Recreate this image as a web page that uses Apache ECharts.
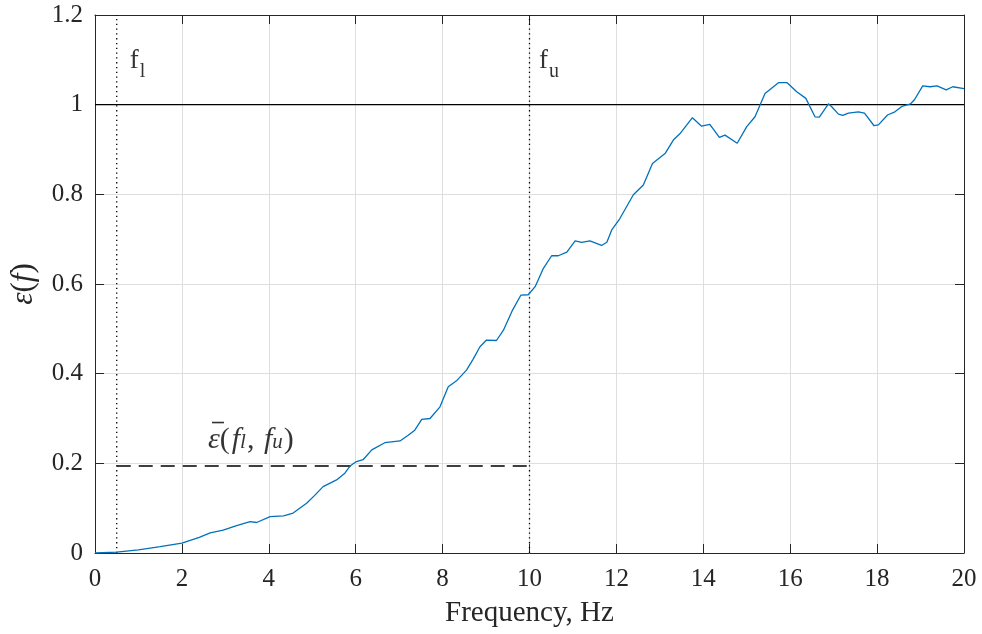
<!DOCTYPE html>
<html>
<head>
<meta charset="utf-8">
<script src="https://cdn.jsdelivr.net/npm/echarts@6/dist/echarts.min.js"></script>
<style>html,body{margin:0;padding:0;background:#fff}#c{width:982px;height:634px}</style>
</head>
<body>
<div id="c"></div>
<script>
// frequency (Hz) and epsilon(f) values
var freq = [0,0.5,1.0,1.5,2.0,2.4,2.65,2.95,3.26,3.57,3.72,4.03,4.34,4.56,4.87,5.05,5.25,5.56,5.75,5.87,
  6.0,6.17,6.37,6.67,7.02,7.2,7.36,7.52,7.71,7.94,8.13,8.32,8.55,8.7,8.86,9.01,9.24,9.4,9.6,9.8,
  9.97,10.13,10.32,10.51,10.66,10.86,11.05,11.2,11.39,11.66,11.78,11.89,12.08,12.25,12.39,12.62,12.83,13.12,13.31,13.46,
  13.75,13.96,14.15,14.37,14.5,14.78,15.0,15.19,15.42,15.73,15.93,16.15,16.36,16.57,16.67,16.88,16.95,17.11,17.21,17.34,
  17.57,17.71,17.93,18.03,18.24,18.41,18.57,18.77,18.86,19.05,19.22,19.38,19.59,19.74,20.0];
var eps = [0,0.002,0.007,0.014,0.022,0.035,0.045,0.051,0.061,0.070,0.068,0.081,0.083,0.089,0.111,0.128,0.148,0.163,0.178,0.194,
  0.203,0.208,0.230,0.246,0.250,0.262,0.274,0.298,0.300,0.326,0.371,0.384,0.408,0.432,0.460,0.475,0.474,0.497,0.540,0.575,
  0.576,0.594,0.635,0.663,0.663,0.671,0.696,0.693,0.696,0.686,0.693,0.720,0.746,0.775,0.799,0.821,0.869,0.891,0.921,0.935,
  0.971,0.952,0.956,0.927,0.932,0.914,0.951,0.973,1.025,1.049,1.049,1.029,1.014,0.973,0.972,1.002,0.996,0.979,0.976,0.981,
  0.984,0.981,0.953,0.955,0.977,0.984,0.996,1.002,1.011,1.042,1.040,1.042,1.033,1.040,1.036];
var fLower = 0.5, fUpper = 10;
var epsMean = 0.194;
var refLevel = 1;
var xTicks = {min: 0, max: 20, step: 2};
var yTicks = {min: 0, max: 1.2, step: 0.2};
var xLabel = 'Frequency, Hz';

var curve = freq.map(function (f, i) { return [f, eps[i]]; });
var serif = 'Liberation Serif';
var axisColor = '#262626';

var chart = echarts.init(document.getElementById('c'), null, {renderer: 'canvas'});
var baseAxis = {
  axisLine: {show: true, onZero: false, lineStyle: {color: axisColor, width: 1}},
  axisTick: {show: true, inside: true, length: 9, lineStyle: {color: axisColor}},
  splitLine: {show: false},
  axisLabel: {show: false}
};
chart.setOption({
  animation: false,
  grid: {left: 95, right: 18, top: 15, bottom: 81, containLabel: false},
  xAxis: [
    Object.assign({}, baseAxis, {
      type: 'value', min: xTicks.min, max: xTicks.max, interval: xTicks.step, position: 'bottom',
      splitLine: {show: true, lineStyle: {color: '#dedede', width: 1}},
      axisLabel: {show: true, fontFamily: serif, fontSize: 25, color: axisColor, margin: 14},
      name: xLabel, nameLocation: 'middle', nameGap: 46,
      nameTextStyle: {fontFamily: serif, fontSize: 29, color: axisColor}
    }),
    Object.assign({}, baseAxis, {
      type: 'value', min: xTicks.min, max: xTicks.max, interval: xTicks.step, position: 'top'
    })
  ],
  yAxis: [
    Object.assign({}, baseAxis, {
      type: 'value', min: yTicks.min, max: yTicks.max, interval: yTicks.step, position: 'left',
      splitLine: {show: true, lineStyle: {color: '#dedede', width: 1}},
      axisLabel: {show: true, fontFamily: serif, fontSize: 25, color: axisColor, margin: 12},
      name: '{e|ε}{p|(}{e|f}{p|)}', nameLocation: 'middle', nameGap: 56, nameRotate: 90,
      nameTextStyle: {
        color: axisColor,
        rich: {
          e: {fontFamily: serif, fontStyle: 'italic', fontSize: 31, color: axisColor},
          p: {fontFamily: serif, fontSize: 31, color: axisColor}
        }
      }
    }),
    Object.assign({}, baseAxis, {
      type: 'value', min: yTicks.min, max: yTicks.max, interval: yTicks.step, position: 'right'
    })
  ],
  series: [
    {
      type: 'line', data: curve, showSymbol: false, symbol: 'none',
      lineStyle: {color: '#0072BD', width: 1.3}, z: 5
    },
    {
      type: 'line', data: [[xTicks.min, refLevel], [xTicks.max, refLevel]], symbol: 'none',
      lineStyle: {color: '#000', width: 1.3}, z: 4
    },
    {
      type: 'line', data: [[fLower, yTicks.min], [fLower, yTicks.max]], symbol: 'none',
      lineStyle: {color: '#000', width: 1.3, type: [1.3, 3.5]}, z: 4
    },
    {
      type: 'line', data: [[fUpper, yTicks.min], [fUpper, yTicks.max]], symbol: 'none',
      lineStyle: {color: '#000', width: 1.3, type: [1.3, 3.5]}, z: 4
    },
    {
      type: 'line', data: [[fLower, epsMean], [fUpper, epsMean]], symbol: 'none',
      lineStyle: {color: '#000', width: 1.3, type: [14, 8]}, z: 4
    },
    {
      type: 'scatter', symbolSize: 0, silent: true, z: 6,
      data: [
        {value: [0.8, 1.09], label: {formatter: '{m|f}{s|l}'}},
        {value: [10.22, 1.09], label: {formatter: '{m|f}{s|u}'}},
        {value: [2.6, 0.262], label: {formatter: '{sp|}{bar|}\n{b|ε}{p|(}{i|f}{si|l}{p|, }{i|f}{si|u}{p|)}'}}
      ],
      label: {
        show: true, position: 'right', distance: 0, align: 'left',
        rich: {
          m: {fontFamily: serif, fontSize: 27, color: '#000', lineHeight: 34, verticalAlign: 'top'},
          s: {fontFamily: serif, fontSize: 20, color: '#000', lineHeight: 34, verticalAlign: 'bottom', padding: [18, 0, 0, 1]},
          sp: {width: 4, height: 2, lineHeight: 9},
          bar: {width: 12, height: 1.6, lineHeight: 9, backgroundColor: '#000'},
          b: {fontFamily: serif, fontStyle: 'italic', fontSize: 30, color: '#000', lineHeight: 26, verticalAlign: 'middle'},
          p: {fontFamily: serif, fontSize: 30, color: '#000', lineHeight: 26, verticalAlign: 'middle'},
          i: {fontFamily: serif, fontStyle: 'italic', fontSize: 30, color: '#000', lineHeight: 26, verticalAlign: 'middle', padding: [0, 0, 0, 2]},
          si: {fontFamily: serif, fontStyle: 'italic', fontSize: 21, color: '#000', lineHeight: 26, verticalAlign: 'bottom', padding: [10, 1, 0, 0]}
        }
      }
    }
  ]
});
</script>
</body>
</html>
